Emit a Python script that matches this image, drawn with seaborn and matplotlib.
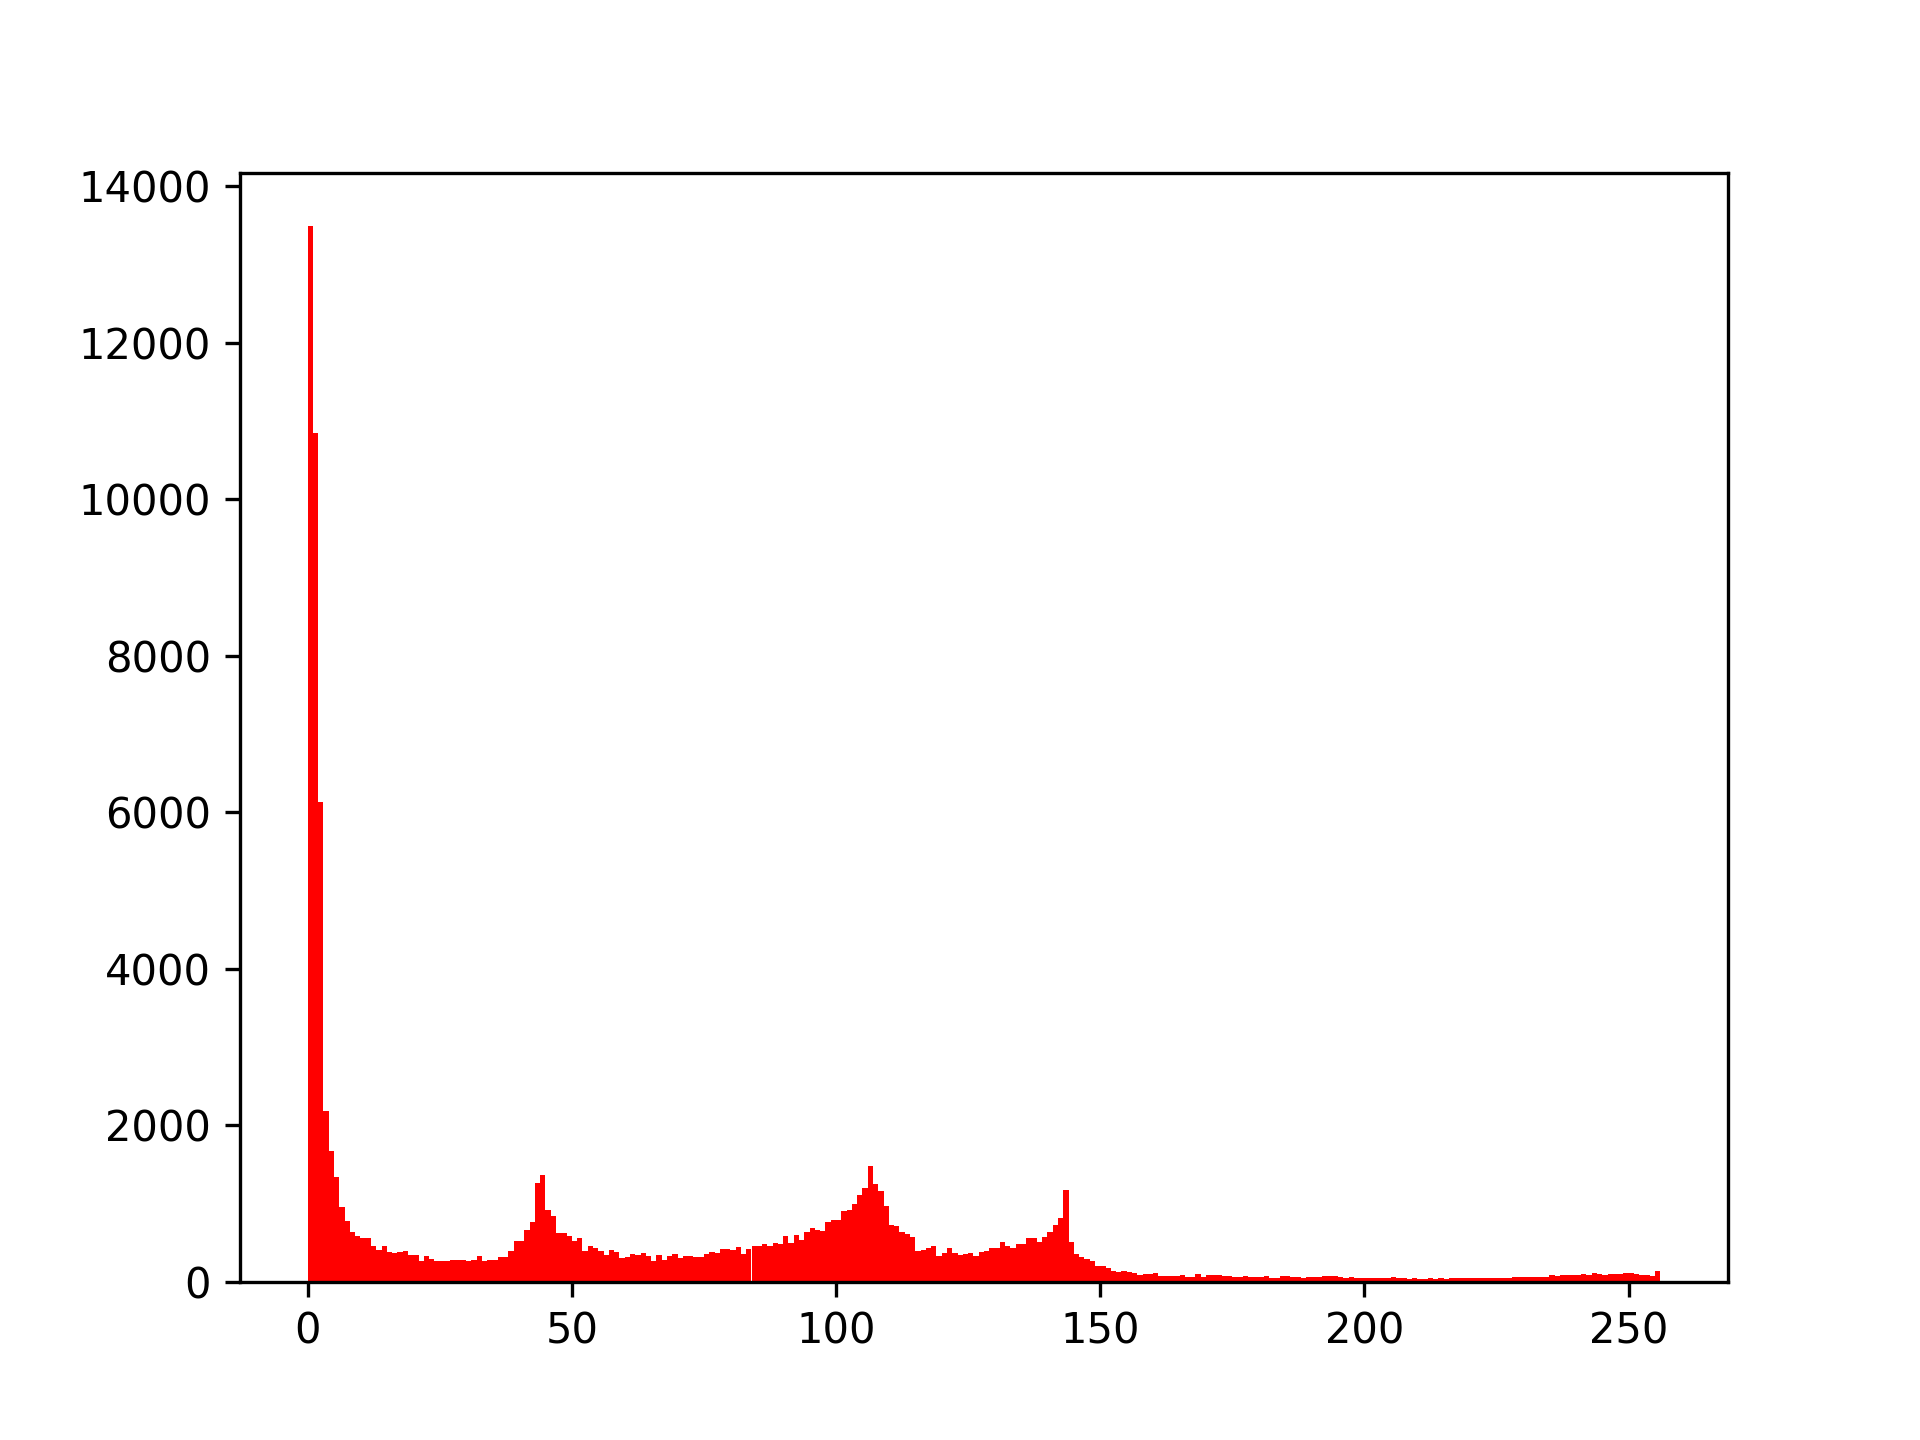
import numpy as np
import pandas as pd
import matplotlib
matplotlib.use("Agg")
import matplotlib.pyplot as plt
import seaborn as sns

# Pixel-intensity histogram counts for bins 0..255
counts_0_53 = [13500, 10850, 6130, 2180, 1673, 1341, 949, 779, 630, 587,
               553, 553, 460, 404, 460, 383, 362, 383, 396, 345,
               345, 268, 332, 290, 268, 260, 260, 277, 277, 277,
               260, 281, 332, 260, 277, 281, 311, 319, 396, 524,
               524, 664, 766, 1256, 1367, 920, 843, 622, 617, 587,
               515, 553, 396, 451]
counts_54_107 = [426, 396, 345, 409, 383, 298, 311, 353, 345, 366,
                 332, 268, 345, 281, 332, 353, 298, 332, 332, 319,
                 319, 353, 383, 370, 417, 417, 409, 447, 353, 417,
                 455, 460, 481, 451, 494, 481, 587, 489, 600, 536,
                 639, 681, 664, 651, 766, 792, 792, 907, 920, 992,
                 1107, 1196, 1482, 1247]
counts_108_161 = [1154, 972, 729, 712, 639, 609, 566, 396, 409, 426,
                  455, 332, 362, 434, 370, 340, 353, 366, 332, 375,
                  396, 434, 426, 511, 451, 426, 481, 481, 553, 553,
                  511, 566, 639, 729, 809, 1175, 511, 353, 319, 290,
                  268, 196, 196, 175, 141, 119, 132, 119, 111, 85,
                  94, 94, 111, 68]
counts_162_255 = [72, 70, 66, 80, 62, 64, 92, 60, 88, 84,
                  80, 70, 66, 60, 58, 72, 64, 56, 58, 74,
                  52, 50, 70, 66, 62, 58, 50, 54, 60, 64,
                  70, 68, 66, 60, 50, 62, 48, 44, 52, 40,
                  46, 50, 42, 56, 40, 44, 38, 48, 36, 38,
                  40, 36, 42, 38, 44, 40, 46, 42, 40, 48,
                  42, 46, 50, 44, 52, 48, 56, 60, 54, 58,
                  56, 62, 58, 80, 76, 82, 88, 80, 78, 96,
                  84, 104, 92, 88, 100, 96, 94, 104, 116, 98,
                  84, 80, 76, 140]

counts = counts_0_53 + counts_54_107 + counts_108_161 + counts_162_255
intensity = np.arange(256) + 0.5

df = pd.DataFrame({"intensity": intensity, "count": counts})

fig, ax = plt.subplots(figsize=(6.4, 4.8), dpi=300)
sns.histplot(data=df, x="intensity", weights="count", bins=256, binrange=(0, 256),
             color="#ff0000", alpha=1.0, linewidth=0, edgecolor="none", ax=ax)
ax.set_xlabel("")
ax.set_ylabel("")
ax.margins(x=0.05, y=0.05)
ax.set_xlim(-12.8, 268.8)
ax.set_ylim(0, max(counts) * 1.05)
ax.set_xticks([0, 50, 100, 150, 200, 250])
ax.set_yticks(range(0, 14001, 2000))

fig.savefig("out.png", dpi=300)
